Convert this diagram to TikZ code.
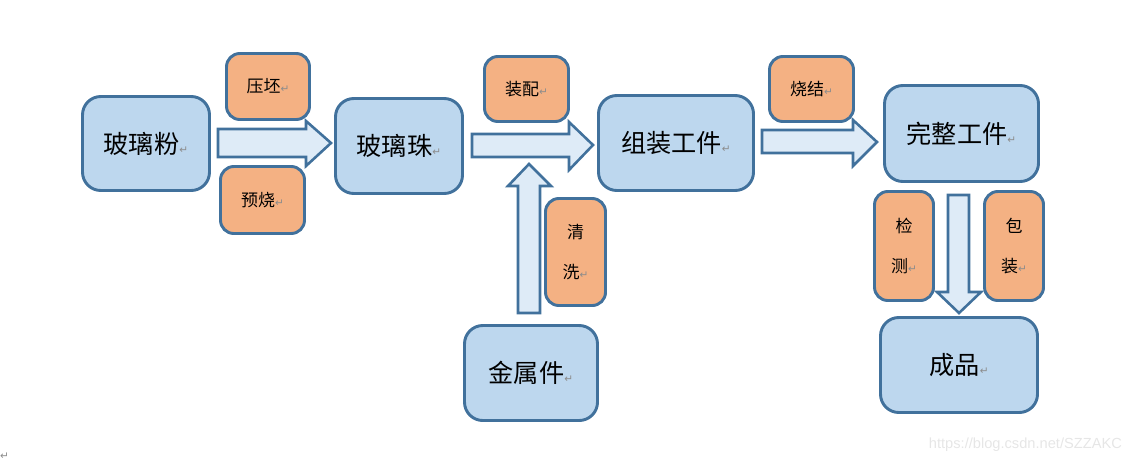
\documentclass[tikz,border=0pt]{standalone}
\usepackage{fontspec}
\newfontfamily\cjk{Noto Sans CJK SC}
\newfontfamily\dejavu{DejaVu Sans}
\setsansfont{Liberation Sans}
\usepackage{xcolor}

\definecolor{boxblue}{HTML}{BDD7EE}
\definecolor{edgeblue}{HTML}{41719C}
\definecolor{boxorange}{HTML}{F4B183}
\definecolor{arrowblue}{HTML}{DEEBF7}
\definecolor{markgray}{HTML}{8C8C8C}
\definecolor{wmgray}{HTML}{E6E6E6}

% Word paragraph mark
\newcommand{\ret}{{\dejavu\color{markgray}\fontsize{9}{9}\selectfont ↵}}

\tikzset{
  mainbox/.style={draw=edgeblue, line width=2.5pt, fill=boxblue, rounded corners=0.55cm,
    font=\cjk\fontsize{21.5}{21.5}\selectfont},
  stepbox/.style={draw=edgeblue, line width=2.5pt, fill=boxorange, rounded corners=0.4cm,
    font=\cjk\fontsize{14.5}{14.5}\selectfont},
  tallstep/.style={stepbox, align=center, font=\cjk\fontsize{14.5}{34}\selectfont},
  blockarrow/.style={draw=edgeblue, line width=2.2pt, fill=arrowblue, line join=miter}
}

\begin{document}
\begin{tikzpicture}[x=0.03cm, y=-0.03cm]
    \useasboundingbox (0,0) rectangle (1133,464);

    % Block arrows
    \draw[blockarrow] (218,129) -- (306,129) -- (306,121) -- (331,143) -- (306,166) -- (306,157) -- (218,157) -- cycle;
    \draw[blockarrow] (472,134) -- (569,134) -- (569,122) -- (593,145) -- (569,170) -- (569,157) -- (472,157) -- cycle;
    \draw[blockarrow] (518,313) -- (518,186) -- (508,186) -- (529,164) -- (551,186) -- (540,186) -- (540,313) -- cycle;
    \draw[blockarrow] (762,130) -- (853,130) -- (853,120) -- (877,142) -- (853,166) -- (853,153) -- (762,153) -- cycle;
    \draw[blockarrow] (948,195) -- (969,195) -- (969,292) -- (981,292) -- (959,313) -- (937,292) -- (948,292) -- cycle;

    % Main stages
    \node[mainbox, minimum width=3.81cm, minimum height=2.82cm] (fen) at (146,143.5) {玻璃粉\ret};
    \node[mainbox, minimum width=3.81cm, minimum height=2.85cm] (zhu) at (399,146) {玻璃珠\ret};
    \node[mainbox, minimum width=4.65cm, minimum height=2.85cm] (zujian) at (676,143) {组装工件\ret};
    \node[mainbox, minimum width=3.99cm, minimum height=2.85cm] (jinshu) at (531,373) {金属件\ret};
    \node[mainbox, minimum width=4.62cm, minimum height=2.88cm] (wanzheng) at (961.5,133.5) {完整工件\ret};
    \node[mainbox, minimum width=4.71cm, minimum height=2.85cm] (chengpin) at (959,365) {成品\ret};

    % Process steps
    \node[stepbox, minimum width=2.49cm, minimum height=1.98cm] (yapi) at (268,86.5) {压坯\ret};
    \node[stepbox, minimum width=2.52cm, minimum height=2.01cm] (yushao) at (262.5,200) {预烧\ret};
    \node[stepbox, minimum width=2.52cm, minimum height=1.95cm] (zhuangpei) at (526.5,89) {装配\ret};
    \node[tallstep, minimum width=1.8cm, minimum height=3.21cm] (qingxi) at (575.5,252) {清\\洗\ret};
    \node[stepbox, minimum width=2.52cm, minimum height=1.95cm] (shaojie) at (811.5,89) {烧结\ret};
    \node[tallstep, minimum width=1.77cm, minimum height=3.27cm] (jiance) at (904,246) {检\\测\ret};
    \node[tallstep, minimum width=1.77cm, minimum height=3.27cm] (baozhuang) at (1014,246) {包\\装\ret};

    % Watermark and stray mark
    \node[anchor=east, text=wmgray, font=\sffamily\fontsize{12.5}{12.5}\selectfont] (wm) at (1126,445) {https://blog.csdn.net/SZZAKC};
    \node[anchor=west, inner sep=0pt] (endmark) at (0,456) {\ret};

\end{tikzpicture}
\end{document}
